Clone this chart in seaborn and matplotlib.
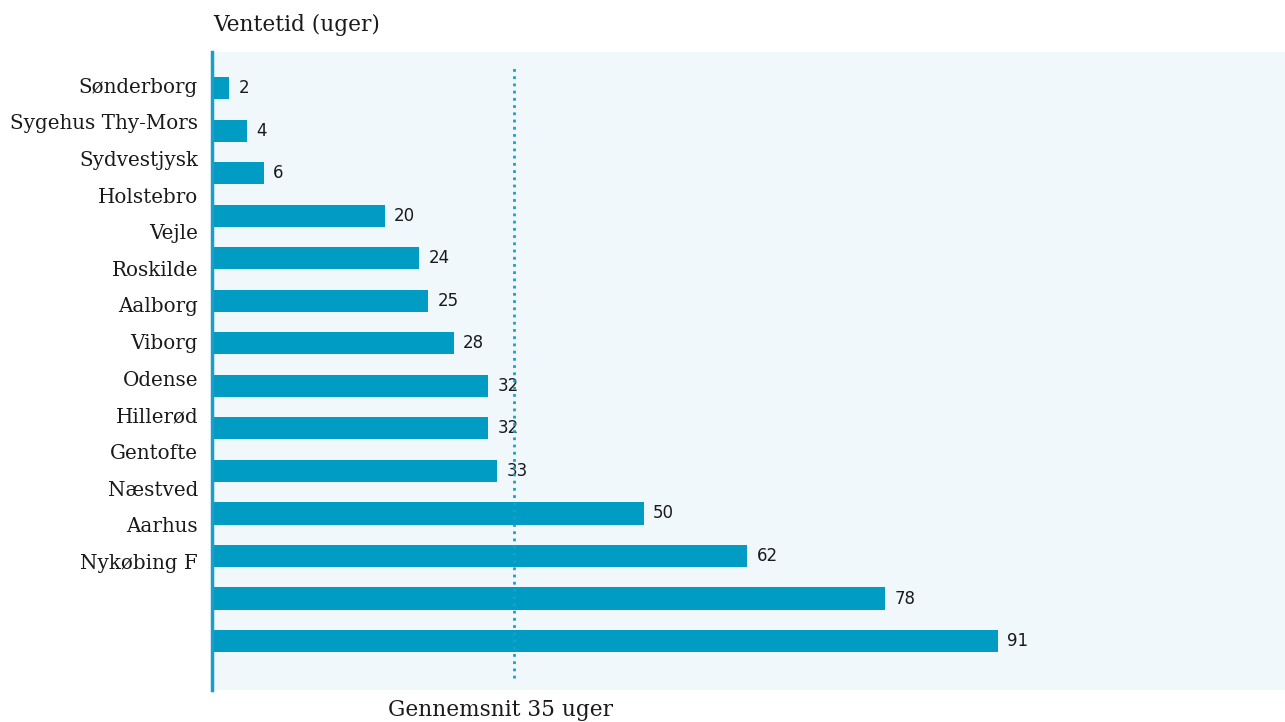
import matplotlib
matplotlib.use("Agg")
import matplotlib.pyplot as plt
import seaborn as sns
import numpy as np
import pandas as pd

categories = ["Sønderborg", "Sygehus Thy-Mors", "Sydvestjysk", "Holstebro", "Vejle",
              "Roskilde", "Aalborg", "Viborg", "Odense", "Hillerød", "Gentofte",
              "Næstved", "Aarhus", "Nykøbing F"]
values = [2, 4, 6, 20, 24, 25, 28, 32, 32, 33, 50, 62, 78, 91]
average = 35
title = "Ventetid (uger)"
avg_label = "Gennemsnit 35 uger"

sns.set_theme(style="white")
plt.rcParams['font.family'] = ['DejaVu Serif']

BAR = "#009cc4"
BG = "#f0f8fb"

df = pd.DataFrame({"pos": np.arange(len(values)), "value": values, "cat": categories})

fig = plt.figure(figsize=(12.85, 7.22), dpi=100)
ax = fig.add_axes([212/1285, 1-690/722, 1-212/1285, (690-52)/722])
ax.set_facecolor(BG)

sns.barplot(data=df, y="cat", x="value", orient="h", color=BAR, width=0.52,
            saturation=1, ax=ax, order=categories, linewidth=0, edgecolor="none")

ax.set_xlim(0, 124.3)
ax.set_ylim(len(values) - 1 + 1.15, -0.85)

# labels (spaced slightly differently from the bars, as in the reference)
lab_pos = -0.07 + np.arange(len(categories)) * 0.861
ax.set_yticks(lab_pos)
ax.set_yticklabels(categories, fontsize=14.3, color="#1a1a1a")
ax.tick_params(axis="y", length=0, pad=10)
ax.set_xticks([])
ax.set_xlabel("")
ax.set_ylabel("")

for s in ["top", "right", "bottom"]:
    ax.spines[s].set_visible(False)
ax.spines["left"].set_color("#1a9fcc")
ax.spines["left"].set_linewidth(2.5)
ax.spines["left"].set_zorder(6)

for i, v in enumerate(values):
    ax.text(v + 1.1, i, str(v), ha="left", va="center", fontsize=12,
            color="#1a1a1a", family="DejaVu Sans")

ax.axvline(average, ymin=(690-678)/638, ymax=(690-66)/638, color="#1a9fcc",
           linewidth=2, linestyle=(0, (1, 1.6)), zorder=5)

fig.text(213/1285, 1-25/722, title, ha="left", va="center", fontsize=15.6, color="#1a1a1a")
fig.text(501/1285, 1-710/722, avg_label, ha="center", va="center", fontsize=15.6, color="#1a1a1a")

fig.savefig("out.png", dpi=100, facecolor="white")
